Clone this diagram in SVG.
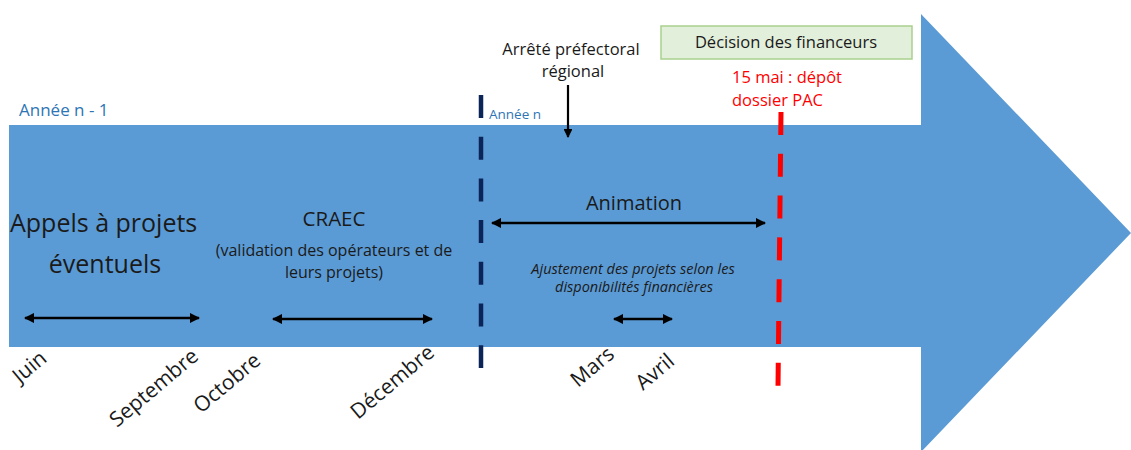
<svg xmlns="http://www.w3.org/2000/svg" width="1131" height="450" viewBox="0 0 1131 450">
  <defs>
    <marker id="ah" viewBox="0 0 10 10" refX="9" refY="5" markerWidth="4" markerHeight="4" orient="auto-start-reverse" markerUnits="strokeWidth">
      <path d="M0,0 L10,5 L0,10 z" fill="#000"/>
    </marker>
    <style>
      text { font-family: "Open Sans", "Liberation Sans", sans-serif; fill: #1a1a1a; }
      .s { font-size: 16.5px; }
      .yr { fill: #2E75B6; }
      .red { fill: #FF0000; }
      .mon { font-size: 21px; }
      .dbl { stroke: #000; stroke-width: 2.6; fill: none; marker-start: url(#ah); marker-end: url(#ah); }
    </style>
  </defs>
  <rect width="1131" height="450" fill="#fff"/>

  <g id="timeline-arrow">
    <polygon points="9,125 921,125 921,14 1131,233 921,452 921,347 9,347" fill="#5B9BD5"/>
  </g>

  <g id="year-labels">
    <text class="yr" x="19" y="116" style="font-size:17px">Année n - 1</text>
    <text class="yr" x="489" y="119" style="font-size:13.5px">Année n</text>
  </g>

  <g id="arrete">
    <text class="s" x="571" y="55" text-anchor="middle">Arrêté préfectoral</text>
    <text class="s" x="573" y="77" text-anchor="middle">régional</text>
  </g>

  <g id="decision">
    <rect x="661" y="26" width="251" height="33" fill="#E2EFDA" stroke="#A9D18E" stroke-width="1.5"/>
    <text class="s" x="786" y="48" text-anchor="middle">Décision des financeurs</text>
  </g>

  <g id="depot-pac">
    <text class="s red" x="732" y="83">15 mai : dépôt</text>
    <text class="s red" x="732" y="106">dossier PAC</text>
  </g>

  <g id="appels">
    <text x="10" y="232" style="font-size:25px">Appels à projets</text>
    <text x="105" y="273" text-anchor="middle" style="font-size:25px">éventuels</text>
  </g>

  <g id="craec">
    <text x="334" y="226" text-anchor="middle" style="font-size:20.5px">CRAEC</text>
    <text x="334" y="256" text-anchor="middle" style="font-size:16px">(validation des opérateurs et de</text>
    <text x="334" y="278" text-anchor="middle" style="font-size:16px">leurs projets)</text>
  </g>

  <g id="animation">
    <text x="634" y="210" text-anchor="middle" style="font-size:20px">Animation</text>
  </g>

  <g id="ajustement">
    <text x="633" y="274" text-anchor="middle" style="font-size:14.5px;font-style:italic">Ajustement des projets selon les</text>
    <text x="634" y="292" text-anchor="middle" style="font-size:14.5px;font-style:italic">disponibilités financières</text>
  </g>

  <g id="months">
    <text class="mon" transform="translate(20,384) rotate(-40)">Juin</text>
    <text class="mon" transform="translate(117,428) rotate(-40)">Septembre</text>
    <text class="mon" transform="translate(201,414) rotate(-40)">Octobre</text>
    <text class="mon" transform="translate(358,420) rotate(-40)">Décembre</text>
    <text class="mon" transform="translate(578,388) rotate(-40)">Mars</text>
    <text class="mon" transform="translate(643,391) rotate(-40)">Avril</text>
  </g>

  <g id="connectors">
    <line x1="481" y1="95" x2="481" y2="368" stroke="#0B2559" stroke-width="4.5" stroke-dasharray="23 18.7"/>
    <line x1="781" y1="112" x2="778" y2="387" stroke="#FF0000" stroke-width="5" stroke-dasharray="23 18.8"/>
    <line x1="568" y1="85" x2="568" y2="137" stroke="#000" stroke-width="2.2" marker-end="url(#ah)"/>
    <line class="dbl" x1="25" y1="318" x2="199" y2="318"/>
    <line class="dbl" x1="273" y1="319" x2="432" y2="319"/>
    <line class="dbl" x1="492" y1="223" x2="765" y2="223"/>
    <line class="dbl" x1="614" y1="319" x2="672" y2="319"/>
  </g>
</svg>
